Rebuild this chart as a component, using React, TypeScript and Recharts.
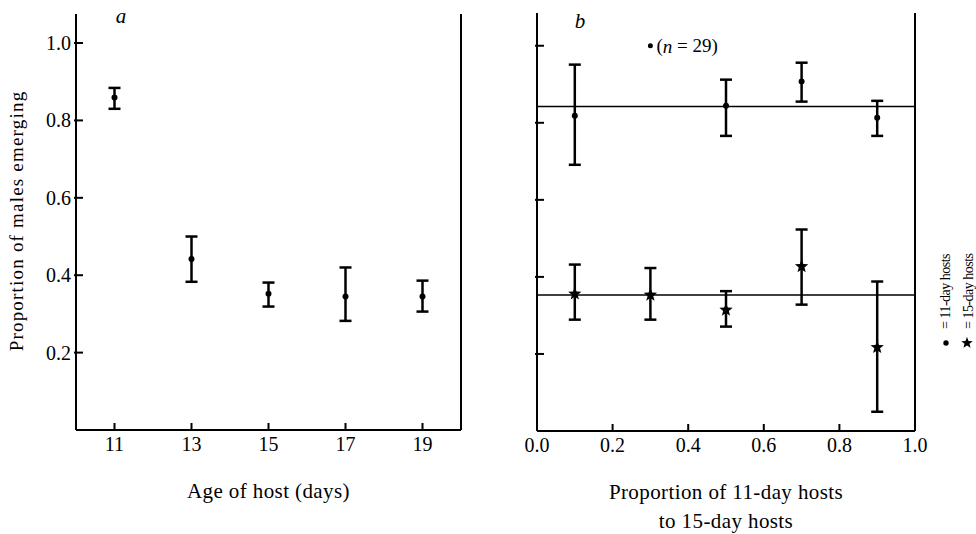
import React from 'react';
import {
  ScatterChart,
  Scatter,
  XAxis,
  YAxis,
  ErrorBar,
  ReferenceLine,
  Label,
  Legend,
} from 'recharts';

const FONT = '"Liberation Serif", "Times New Roman", serif';
const INK = '#000';

// ---- panel a: proportion of males vs age of host ----
const hostAge = [11, 13, 15, 17, 19];
const malesByAge = [0.859, 0.442, 0.352, 0.345, 0.345];
const upperByAge = [0.884, 0.5, 0.381, 0.42, 0.386];
const lowerByAge = [0.83, 0.383, 0.319, 0.282, 0.306];
const ageTicks = [11, 13, 15, 17, 19];
const propTicks = [0.2, 0.4, 0.6, 0.8, 1.0];

// ---- panel b: mixed hosts ----
const mix11 = [0.1, 0.5, 0.7, 0.9];
const males11 = [0.818, 0.844, 0.907, 0.813];
const upper11 = [0.951, 0.912, 0.956, 0.857];
const lower11 = [0.691, 0.766, 0.855, 0.766];

const mix15 = [0.1, 0.3, 0.5, 0.7, 0.9];
const males15 = [0.356, 0.353, 0.314, 0.427, 0.217];
const upper15 = [0.432, 0.423, 0.363, 0.523, 0.388];
const lower15 = [0.289, 0.289, 0.271, 0.328, 0.05];

const fit11 = 0.842;
const fit15 = 0.353;
const singleX = [0.3];
const singleY = [1.0];
const singleN = 29;
const mixTicks = [0, 0.2, 0.4, 0.6, 0.8, 1.0];

const toRows = (xs: number[], ys: number[], hi: number[], lo: number[]) =>
  xs.map((x, i) => ({ x, y: ys[i], err: [ys[i] - lo[i], hi[i] - ys[i]] }));

const ageRows = toRows(hostAge, malesByAge, upperByAge, lowerByAge);
const rows11 = toRows(mix11, males11, upper11, lower11);
const rows15 = toRows(mix15, males15, upper15, lower15);
const singleRows = singleX.map((x, i) => ({ x, y: singleY[i], n: singleN }));

// ---- shapes ----
const starPath = (cx: number, cy: number, R: number, r: number) => {
  let d = '';
  for (let i = 0; i < 10; i++) {
    const a = -Math.PI / 2 + (i * Math.PI) / 5;
    const rad = i % 2 ? r : R;
    d += (i ? 'L' : 'M') + (cx + rad * Math.cos(a)).toFixed(2) + ',' + (cy + rad * Math.sin(a)).toFixed(2);
  }
  return d + 'Z';
};

const DotShape = (p: any) => <circle cx={p.cx} cy={p.cy} r={3} fill={INK} />;
const StarShape = (p: any) => <path d={starPath(p.cx, p.cy, 7, 3)} fill={INK} />;
const SingleShape = (p: any) => (
  <g>
    <circle cx={p.cx} cy={p.cy} r={2.5} fill={INK} />
    <text x={p.cx + 6} y={p.cy} dominantBaseline="central" fontFamily={FONT} fontSize={19} fill={INK}>
      (<tspan fontStyle="italic">n</tspan> = {p.payload.n})
    </text>
  </g>
);

// ---- ticks (drawn inward) ----
const Y_MARGIN = 4;
const X_MARGIN = 6;
const TICK_LEN = 7;

const YTick = (p: any) => (
  <g>
    <line x1={p.x + Y_MARGIN - 2} y1={p.y} x2={p.x + Y_MARGIN + TICK_LEN} y2={p.y} stroke={INK} strokeWidth={2} />
    {p.showLabel && (
      <text x={p.x - 1} y={p.y} textAnchor="end" dominantBaseline="central" fontFamily={FONT} fontSize={20} fill={INK}>
        {Number(p.payload.value).toFixed(1)}
      </text>
    )}
  </g>
);

const XTick = (p: any) => (
  <g>
    <line x1={p.x} y1={p.y - X_MARGIN} x2={p.x} y2={p.y - X_MARGIN - TICK_LEN} stroke={INK} strokeWidth={2} />
    <text x={p.x} y={p.y} dy="0.76em" textAnchor="middle" fontFamily={FONT} fontSize={20} fill={INK}>
      {p.fmt ? p.fmt(p.payload.value) : p.payload.value}
    </text>
  </g>
);

// ---- axis titles ----
const XTitle = (p: any) => {
  const vb = p.viewBox || {};
  const cx = vb.x + vb.width / 2;
  return (
    <text
      x={cx}
      y={vb.y + 68}
      textAnchor="middle"
      fontFamily={FONT}
      fontSize={21}
      letterSpacing={0.4}
      fill={INK}
    >
      {p.lines.map((l: string, i: number) => (
        <tspan key={l} x={cx} dy={i === 0 ? 0 : 29}>
          {l}
        </tspan>
      ))}
    </text>
  );
};

const YTitle = (p: any) => {
  const vb = p.viewBox || {};
  const cx = vb.x + 16;
  const cy = vb.y + vb.height / 2 - 1;
  return (
    <text
      x={cx}
      y={cy}
      transform={`rotate(-90 ${cx} ${cy})`}
      textAnchor="middle"
      dominantBaseline="central"
      fontFamily={FONT}
      fontSize={19}
      letterSpacing={1.2}
      fill={INK}
    >
      Proportion of males emerging
    </text>
  );
};

// rotated key at right of panel b
const RotatedKey = (p: any) => {
  const items = (p.payload || []).filter((e: any) => e.type !== 'none');
  return (
    <svg width={50} height={100} style={{ overflow: 'visible' }}>
      {items.map((e: any, i: number) => {
        const bx = 18 + i * 23;
        const by = 91;
        return (
          <g key={e.value}>
            {i === 0 ? (
              <circle cx={bx - 4} cy={by} r={2.7} fill={INK} />
            ) : (
              <path d={starPath(bx - 6, by, 6, 2.6)} fill={INK} />
            )}
            <text
              x={bx}
              y={by - 14}
              transform={`rotate(-90 ${bx} ${by - 14})`}
              fontFamily={FONT}
              fontSize={14}
              letterSpacing={-0.5}
              fill={INK}
            >
              = {e.value}
            </text>
          </g>
        );
      })}
    </svg>
  );
};

const axisLine = { stroke: INK, strokeWidth: 2 };

export default function App() {
  return (
    <div
      style={{
        position: 'absolute',
        left: 0,
        top: 0,
        width: 976,
        height: 534,
        background: '#fff',
        overflow: 'hidden',
      }}
    >
      {/* Panel a */}
      <div style={{ position: 'absolute', left: 0, top: 0 }}>
        <ScatterChart width={480} height={534} margin={{ top: 14, right: 19, bottom: 24, left: 0 }}>
          <XAxis
            type="number"
            dataKey="x"
            domain={[10, 20]}
            ticks={ageTicks}
            tickSize={0}
            tickMargin={X_MARGIN}
            tickLine={false}
            axisLine={axisLine}
            height={80}
            tick={(p: any) => <XTick {...p} />}
          >
            <Label content={(p: any) => <XTitle {...p} lines={['Age of host (days)']} />} />
          </XAxis>
          <YAxis
            type="number"
            dataKey="y"
            domain={[0, 1.075]}
            ticks={propTicks}
            tickSize={0}
            tickMargin={Y_MARGIN}
            tickLine={false}
            axisLine={axisLine}
            width={76}
            tick={(p: any) => <YTick {...p} showLabel />}
          >
            <Label content={(p: any) => <YTitle {...p} />} />
          </YAxis>
          <ReferenceLine x={20} stroke={INK} strokeWidth={2} />
          <Scatter data={ageRows} shape={DotShape} isAnimationActive={false}>
            <ErrorBar dataKey="err" direction="y" width={6} stroke={INK} strokeWidth={2.5} />
          </Scatter>
        </ScatterChart>
      </div>

      {/* Panel b */}
      <div style={{ position: 'absolute', left: 460, top: 0 }}>
        <ScatterChart width={516} height={534} margin={{ top: 13, right: 61, bottom: 23, left: 57 }}>
          <XAxis
            type="number"
            dataKey="x"
            domain={[0, 1]}
            ticks={mixTicks}
            tickSize={0}
            tickMargin={X_MARGIN}
            tickLine={false}
            axisLine={axisLine}
            height={80}
            tick={(p: any) => <XTick {...p} fmt={(v: number) => v.toFixed(1)} />}
          >
            <Label
              content={(p: any) => (
                <XTitle {...p} lines={['Proportion of 11-day hosts', 'to 15-day hosts']} />
              )}
            />
          </XAxis>
          <YAxis
            type="number"
            dataKey="y"
            domain={[0, 1.085]}
            ticks={propTicks}
            tickSize={0}
            tickMargin={Y_MARGIN}
            tickLine={false}
            axisLine={axisLine}
            width={20}
            tick={(p: any) => <YTick {...p} />}
          />
          <ReferenceLine x={1} stroke={INK} strokeWidth={2} />
          <ReferenceLine y={fit11} stroke={INK} strokeWidth={1.5} />
          <ReferenceLine y={fit15} stroke={INK} strokeWidth={1.5} />
          <Legend
            layout="horizontal"
            verticalAlign="middle"
            align="center"
            wrapperStyle={{ left: 472, top: 252, width: 50, height: 100 }}
            content={(p: any) => <RotatedKey {...p} />}
          />
          <Scatter name="11-day hosts" data={rows11} shape={DotShape} isAnimationActive={false}>
            <ErrorBar dataKey="err" direction="y" width={6} stroke={INK} strokeWidth={2.5} />
          </Scatter>
          <Scatter name="15-day hosts" data={rows15} shape={StarShape} isAnimationActive={false}>
            <ErrorBar dataKey="err" direction="y" width={6} stroke={INK} strokeWidth={2.5} />
          </Scatter>
          <Scatter data={singleRows} shape={SingleShape} legendType="none" isAnimationActive={false} />
        </ScatterChart>
      </div>

      {/* panel letters */}
      <svg
        width={976}
        height={534}
        style={{ position: 'absolute', left: 0, top: 0, pointerEvents: 'none' }}
      >
        <text x={121} y={23} textAnchor="middle" fontFamily={FONT} fontStyle="italic" fontSize={21} fill={INK}>
          a
        </text>
        <text x={580} y={28} textAnchor="middle" fontFamily={FONT} fontStyle="italic" fontSize={21} fill={INK}>
          b
        </text>
      </svg>
    </div>
  );
}
